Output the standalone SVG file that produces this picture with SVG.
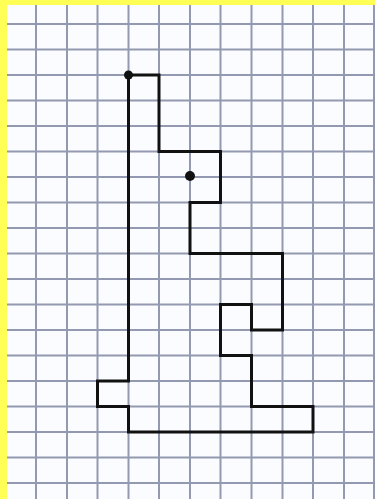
<svg xmlns="http://www.w3.org/2000/svg" width="375" height="499" viewBox="0 0 375 499">
<style>
.grid line{stroke:#9499b2;stroke-width:2}
.route{fill:none;stroke:#111;stroke-width:3;stroke-linejoin:miter;stroke-linecap:square}
.dot{fill:#111}
</style>
<rect x="0" y="0" width="375" height="499" fill="#fbfcff"/>
<g class="grid">
<line x1="36" y1="5" x2="36" y2="499"/>
<line x1="67" y1="5" x2="67" y2="499"/>
<line x1="97.5" y1="5" x2="97.5" y2="499"/>
<line x1="128.5" y1="5" x2="128.5" y2="499"/>
<line x1="159" y1="5" x2="159" y2="499"/>
<line x1="190" y1="5" x2="190" y2="499"/>
<line x1="220.5" y1="5" x2="220.5" y2="499"/>
<line x1="251.5" y1="5" x2="251.5" y2="499"/>
<line x1="282.5" y1="5" x2="282.5" y2="499"/>
<line x1="313" y1="5" x2="313" y2="499"/>
<line x1="344" y1="5" x2="344" y2="499"/>
<line x1="374" y1="5" x2="374" y2="499"/>
<line x1="7" y1="24" x2="375" y2="24"/>
<line x1="7" y1="49.5" x2="375" y2="49.5"/>
<line x1="7" y1="75" x2="375" y2="75"/>
<line x1="7" y1="100.5" x2="375" y2="100.5"/>
<line x1="7" y1="126" x2="375" y2="126"/>
<line x1="7" y1="151.5" x2="375" y2="151.5"/>
<line x1="7" y1="177" x2="375" y2="177"/>
<line x1="7" y1="202.5" x2="375" y2="202.5"/>
<line x1="7" y1="228" x2="375" y2="228"/>
<line x1="7" y1="253.5" x2="375" y2="253.5"/>
<line x1="7" y1="279" x2="375" y2="279"/>
<line x1="7" y1="304.5" x2="375" y2="304.5"/>
<line x1="7" y1="330" x2="375" y2="330"/>
<line x1="7" y1="355.5" x2="375" y2="355.5"/>
<line x1="7" y1="381" x2="375" y2="381"/>
<line x1="7" y1="406.5" x2="375" y2="406.5"/>
<line x1="7" y1="432" x2="375" y2="432"/>
<line x1="7" y1="457.5" x2="375" y2="457.5"/>
<line x1="7" y1="483" x2="375" y2="483"/>
</g>
<rect x="0" y="0" width="375" height="5" fill="#ffff55"/>
<rect x="0" y="0" width="7" height="499" fill="#ffff55"/>
<g id="figure">
<path class="route" d="M128.5,75 H159 V151.5 H220.5 V202.5 H190 V253.5 H282.5 V330 H251.5 V304.5 H220.5 V355.5 H251.5 V406.5 H313 V432 H128.5 V406.5 H97.5 V381 H128.5 Z"/>
</g>
<g id="dot1"><circle class="dot" cx="128.5" cy="75" r="4.5"/></g>
<g id="dot2"><circle class="dot" cx="190" cy="176" r="5"/></g>
</svg>
